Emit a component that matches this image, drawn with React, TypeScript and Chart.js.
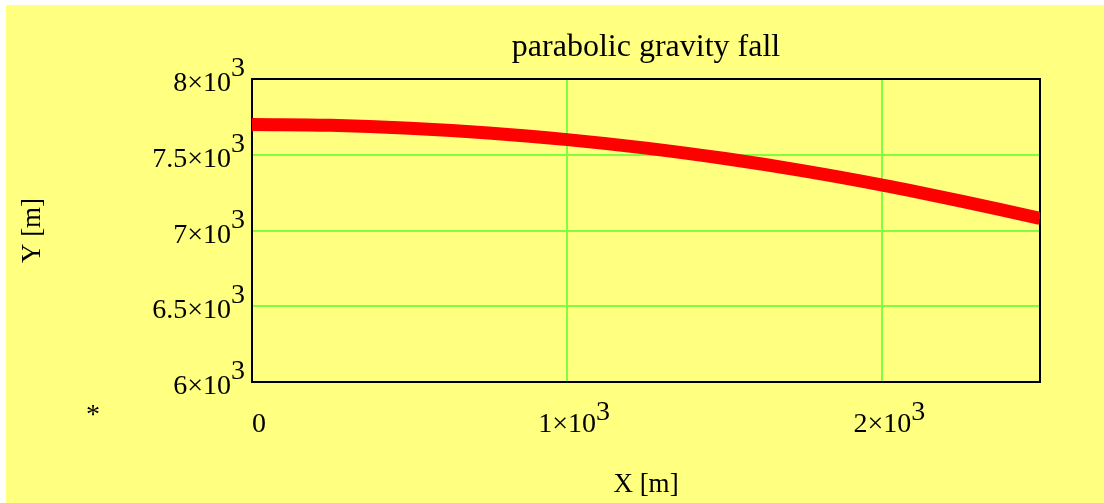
import React, { useEffect, useRef } from 'react';
import { Chart, registerables } from 'chart.js';

Chart.register(...registerables);

// ---- data ----
const xValues = [0, 250, 500, 750, 1000, 1250, 1500, 1750, 2000, 2250, 2500];
const yValues = [7700, 7694, 7675, 7644, 7600, 7544, 7475, 7394, 7300, 7194, 7080];

const xTickValues = [0, 1000, 2000];
const xTickBase = ['0', '1×10', '2×10'];
const xTickExp = ['', '3', '3'];

const yTickValues = [6000, 6500, 7000, 7500, 8000];
const yTickBase = ['6×10', '6.5×10', '7×10', '7.5×10', '8×10'];
const yTickExp = ['3', '3', '3', '3', '3'];

const xGridValues = [1000, 2000];
const yGridValues = [6500, 7000, 7500];

const titleText = 'parabolic gravity fall';
const xTitleText = 'X [m]';
const yTitleText = 'Y [m]';
const footnoteText = '*';

// ---- styles ----
const FONT = '"Liberation Serif", "Times New Roman", serif';
const BG = '#FFFF80';
const GRID = '#80FF40';
const LINE = '#FF0000';
const W = 1104;
const H = 503;

const labelsPlugin = {
  id: 'mathcadLabels',
  beforeDatasetsDraw(chart: any) {
    const { ctx, chartArea } = chart;
    ctx.save();
    ctx.strokeStyle = '#000';
    ctx.lineWidth = 2;
    ctx.strokeRect(chartArea.left, chartArea.top, chartArea.right - chartArea.left, chartArea.bottom - chartArea.top);
    ctx.restore();
  },
  afterDraw(chart: any) {
    const { ctx, chartArea, scales } = chart;
    ctx.save();
    ctx.fillStyle = '#000';
    ctx.font = `28px ${FONT}`;
    ctx.textBaseline = 'alphabetic';
    ctx.textAlign = 'left';
    // x tick labels
    xTickValues.forEach((v, i) => {
      const px = scales.x.getPixelForValue(v);
      const b = xTickBase[i];
      const e = xTickExp[i];
      const wb = ctx.measureText(b).width;
      const we = e ? ctx.measureText(e).width : 0;
      const left = px + 7 - (wb + we) / 2;
      const base = chartArea.bottom + 50;
      ctx.fillText(b, left, base);
      if (e) ctx.fillText(e, left + wb, base - 12);
    });
    // y tick labels
    yTickValues.forEach((v, i) => {
      const py = scales.y.getPixelForValue(v);
      const b = yTickBase[i];
      const e = yTickExp[i];
      const wb = ctx.measureText(b).width;
      const we = e ? ctx.measureText(e).width : 0;
      const right = chartArea.left - 7;
      const left = right - wb - we;
      const base = py + 12;
      ctx.fillText(b, left, base);
      if (e) ctx.fillText(e, left + wb, base - 15);
    });
    // footnote asterisk
    ctx.textAlign = 'center';
    ctx.fillText(footnoteText, 93, 423);
    ctx.restore();
  },
};

export default function App() {
  const ref = useRef<HTMLCanvasElement | null>(null);

  useEffect(() => {
    if (!ref.current) return;
    const chart = new Chart(ref.current, {
      type: 'line',
      data: {
        datasets: [
          {
            data: xValues.map((x, i) => ({ x, y: yValues[i] })),
            borderColor: LINE,
            backgroundColor: LINE,
            borderWidth: 13,
            borderCapStyle: 'butt',
            pointRadius: 0,
            tension: 0.4,
            fill: false,
          },
        ],
      },
      options: {
        responsive: false,
        animation: false,
        layout: { padding: { left: 0, top: 0, right: 64, bottom: 0 } },
        plugins: {
          legend: { display: false },
          tooltip: { enabled: false },
          title: {
            display: true,
            text: titleText,
            color: '#000',
            fullSize: false,
            font: { family: FONT, size: 32, weight: 'normal' },
            padding: { top: 28, bottom: 12.6 },
          },
        },
        scales: {
          x: {
            type: 'linear',
            min: 0,
            max: 2500,
            ticks: { display: false, stepSize: 500 },
            grid: {
              drawTicks: false,
              lineWidth: 2,
              color: (c: any) => (c.tick && xGridValues.includes(c.tick.value) ? GRID : 'rgba(0,0,0,0)'),
            },
            border: { display: false },
            title: {
              display: true,
              text: xTitleText,
              color: '#000',
              font: { family: FONT, size: 27, weight: 'normal' },
              padding: { top: 0, bottom: 2 },
            },
            afterFit: (s: any) => {
              s.height = 121;
            },
          },
          y: {
            type: 'linear',
            min: 6000,
            max: 8000,
            ticks: { display: false, stepSize: 500 },
            grid: {
              drawTicks: false,
              lineWidth: 2,
              color: (c: any) => (c.tick && yGridValues.includes(c.tick.value) ? GRID : 'rgba(0,0,0,0)'),
            },
            border: { display: false },
            title: {
              display: true,
              text: yTitleText,
              color: '#000',
              font: { family: FONT, size: 27, weight: 'normal' },
              padding: { top: 17, bottom: 0 },
            },
            afterFit: (s: any) => {
              s.width = 252;
            },
          },
        },
      },
      plugins: [labelsPlugin],
    } as any);
    return () => chart.destroy();
  }, []);

  return (
    <div style={{ position: 'absolute', left: 0, top: 0, width: W, height: H, background: '#fff' }}>
      <div style={{ position: 'absolute', left: 6, top: 5, right: 0, bottom: 0, background: BG }} />
      <canvas ref={ref} width={W} height={H} style={{ position: 'absolute', left: 0, top: 0, width: W, height: H }} />
    </div>
  );
}
